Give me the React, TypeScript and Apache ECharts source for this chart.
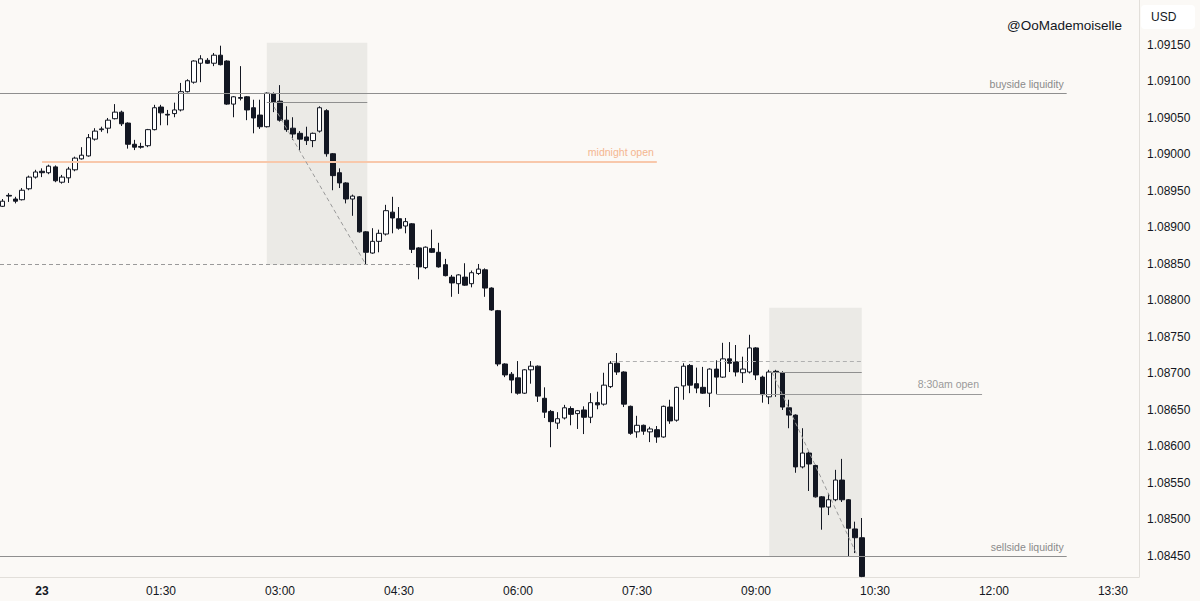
import React, { useEffect, useRef } from "react";
import * as echarts from "echarts";

// 5-minute candles, first one at 23:30 of the previous day (minutes relative to 00:00)
const candleStartMinutes = -30;
const candleStepMinutes = 5;

// [open, close, low, high]
const ohlc: [number, number, number, number][] = [
  [1.08929, 1.08936, 1.08928, 1.08939],
  [1.08944, 1.08943, 1.08935, 1.08947],
  [1.08939, 1.08936, 1.08933, 1.08942],
  [1.08938, 1.08951, 1.08937, 1.08954],
  [1.08953, 1.08969, 1.08951, 1.08971],
  [1.08969, 1.08976, 1.08967, 1.08979],
  [1.08977, 1.08975, 1.08969, 1.08981],
  [1.08975, 1.08984, 1.08973, 1.08986],
  [1.08983, 1.08964, 1.08962, 1.08985],
  [1.08962, 1.08969, 1.0896, 1.08972],
  [1.08968, 1.0898, 1.08961, 1.08983],
  [1.08979, 1.08995, 1.08977, 1.08997],
  [1.08994, 1.08999, 1.08993, 1.0901],
  [1.08998, 1.09023, 1.08997, 1.09028],
  [1.09021, 1.09032, 1.09019, 1.09036],
  [1.09034, 1.09035, 1.09031, 1.09038],
  [1.09036, 1.09047, 1.09029, 1.0905],
  [1.09049, 1.09058, 1.09048, 1.09069],
  [1.09058, 1.09042, 1.09039, 1.0906],
  [1.09043, 1.09014, 1.09008, 1.09044],
  [1.09014, 1.0901, 1.09006, 1.0902],
  [1.09011, 1.0901, 1.09008, 1.09016],
  [1.09012, 1.09034, 1.0901, 1.09035],
  [1.09034, 1.09064, 1.09033, 1.09068],
  [1.09065, 1.09057, 1.0904, 1.09068],
  [1.09055, 1.09054, 1.0904, 1.09061],
  [1.09056, 1.09061, 1.09051, 1.09071],
  [1.09061, 1.09086, 1.09059, 1.09098],
  [1.09086, 1.09101, 1.09085, 1.09103],
  [1.09099, 1.09128, 1.09097, 1.09129],
  [1.09125, 1.09131, 1.09099, 1.09136],
  [1.09129, 1.09125, 1.09124, 1.09132],
  [1.09125, 1.09136, 1.09121, 1.09139],
  [1.09136, 1.09123, 1.09122, 1.09149],
  [1.09128, 1.09069, 1.09068, 1.09129],
  [1.09069, 1.09079, 1.09051, 1.0908],
  [1.09078, 1.09077, 1.09074, 1.09121],
  [1.09079, 1.09061, 1.09047, 1.0908],
  [1.09064, 1.0905, 1.09029, 1.09075],
  [1.09054, 1.09038, 1.09035, 1.09075],
  [1.09038, 1.09084, 1.09037, 1.09085],
  [1.09083, 1.09072, 1.09058, 1.09085],
  [1.09073, 1.09047, 1.09045, 1.09095],
  [1.09047, 1.09034, 1.09031, 1.09066],
  [1.09036, 1.09028, 1.0902, 1.09051],
  [1.09029, 1.09021, 1.09006, 1.09032],
  [1.09024, 1.09019, 1.09013, 1.09038],
  [1.09019, 1.09029, 1.0901, 1.0903],
  [1.09032, 1.09064, 1.0903, 1.09066],
  [1.0906, 1.09001, 1.08997, 1.09062],
  [1.09001, 1.08971, 1.08951, 1.09002],
  [1.08975, 1.08961, 1.08954, 1.08981],
  [1.08961, 1.08939, 1.08933, 1.08962],
  [1.08939, 1.08943, 1.08916, 1.08945],
  [1.08942, 1.08894, 1.08893, 1.08943],
  [1.08894, 1.08866, 1.08849, 1.08895],
  [1.08865, 1.08881, 1.08864, 1.08899],
  [1.08881, 1.08892, 1.08866, 1.08897],
  [1.08891, 1.08923, 1.08889, 1.08931],
  [1.08921, 1.08913, 1.08892, 1.08942],
  [1.08912, 1.08899, 1.08897, 1.08928],
  [1.08902, 1.08908, 1.08892, 1.08913],
  [1.08905, 1.0887, 1.08865, 1.08906],
  [1.08872, 1.08846, 1.08829, 1.08873],
  [1.08845, 1.08873, 1.08843, 1.08874],
  [1.08871, 1.08866, 1.08865, 1.08897],
  [1.08866, 1.08846, 1.08845, 1.08879],
  [1.08849, 1.08834, 1.08833, 1.08857],
  [1.08832, 1.08824, 1.08805, 1.08835],
  [1.08823, 1.08835, 1.08809, 1.08836],
  [1.08832, 1.08821, 1.0882, 1.08851],
  [1.08823, 1.08838, 1.08818, 1.08841],
  [1.08837, 1.08843, 1.08835, 1.0885],
  [1.08842, 1.08817, 1.08805, 1.08844],
  [1.08817, 1.08787, 1.08786, 1.08818],
  [1.08786, 1.08713, 1.0871, 1.08787],
  [1.08713, 1.08698, 1.08695, 1.08714],
  [1.08699, 1.08691, 1.08673, 1.08702],
  [1.08694, 1.08673, 1.08671, 1.08717],
  [1.08673, 1.08705, 1.08672, 1.08706],
  [1.08705, 1.0871, 1.08686, 1.08717],
  [1.0871, 1.08669, 1.08661, 1.08711],
  [1.08666, 1.08647, 1.08639, 1.08681],
  [1.08648, 1.08634, 1.08599, 1.0865],
  [1.08632, 1.08638, 1.08624, 1.08647],
  [1.08639, 1.08653, 1.08637, 1.08657],
  [1.08652, 1.08644, 1.08629, 1.08655],
  [1.08645, 1.08649, 1.08624, 1.0865],
  [1.0865, 1.0864, 1.08617, 1.08655],
  [1.0864, 1.0866, 1.08632, 1.08673],
  [1.0866, 1.08657, 1.08651, 1.08675],
  [1.08658, 1.08684, 1.08656, 1.08701],
  [1.08682, 1.08714, 1.0868, 1.08717],
  [1.08714, 1.08702, 1.08698, 1.08728],
  [1.08702, 1.08658, 1.08654, 1.08703],
  [1.08655, 1.08618, 1.08616, 1.08656],
  [1.0862, 1.08629, 1.08612, 1.08642],
  [1.08629, 1.08621, 1.08616, 1.0863],
  [1.0862, 1.08624, 1.08606, 1.08627],
  [1.08623, 1.08613, 1.08605, 1.08628],
  [1.08613, 1.08655, 1.08612, 1.08656],
  [1.08654, 1.08635, 1.08631, 1.08664],
  [1.08636, 1.08681, 1.08634, 1.08682],
  [1.08683, 1.0871, 1.08664, 1.08714],
  [1.08711, 1.08684, 1.08673, 1.08713],
  [1.08686, 1.0868, 1.08673, 1.08708],
  [1.08681, 1.08673, 1.08672, 1.08709],
  [1.08673, 1.08706, 1.08654, 1.08707],
  [1.08706, 1.08695, 1.08672, 1.08718],
  [1.08695, 1.0872, 1.08694, 1.08742],
  [1.0872, 1.08714, 1.08702, 1.08743],
  [1.08716, 1.08702, 1.08696, 1.08739],
  [1.08701, 1.08706, 1.08687, 1.08723],
  [1.08702, 1.08735, 1.087, 1.08753],
  [1.08735, 1.08698, 1.08691, 1.08736],
  [1.08695, 1.08671, 1.0866, 1.08697],
  [1.08668, 1.08702, 1.08658, 1.08705],
  [1.08703, 1.08702, 1.08668, 1.08705],
  [1.08701, 1.08654, 1.0865, 1.08703],
  [1.08653, 1.08643, 1.08625, 1.08664],
  [1.08643, 1.08572, 1.08564, 1.08644],
  [1.08572, 1.08591, 1.0857, 1.08625],
  [1.08591, 1.08576, 1.08539, 1.08593],
  [1.08574, 1.08531, 1.0853, 1.08575],
  [1.08531, 1.08517, 1.08486, 1.08532],
  [1.08517, 1.08527, 1.08506, 1.08536],
  [1.08527, 1.08554, 1.08525, 1.08568],
  [1.08554, 1.08527, 1.08524, 1.08583],
  [1.08527, 1.08488, 1.08449, 1.08528],
  [1.08487, 1.08475, 1.08454, 1.08497],
  [1.08475, 1.08422, 1.08421, 1.08502],
];

// time axis (minutes from 00:00) and its labels
const timeTickValues = [0, 90, 180, 270, 360, 450, 540, 630, 720, 810];
const timeTickLabels = ["23", "01:30", "03:00", "04:30", "06:00", "07:30", "09:00", "10:30", "12:00", "13:30"];

// price axis labels
const priceTicks = [
  1.0845, 1.085, 1.0855, 1.086, 1.0865, 1.087, 1.0875, 1.088, 1.0885, 1.089, 1.0895, 1.09, 1.0905, 1.091, 1.0915,
];

// visible ranges
const timeRange = [-31.8, 829.7];
const priceRange = [1.084212, 1.092116];

// annotation levels
const buysideLiquidity = 1.09084;
const sellsideLiquidity = 1.08449;
const midnightOpen = 1.0899;
const openAt830 = 1.08672;
const liquidityLineEnd = 775;
const midnightLineSpan = [0, 465];
const openAt830Span = [510, 711];
const swingLowLevel = 1.08849;
const swingLowSpan = [-31.8, 282];
const equalHighsLevel = 1.08717;
const equalHighsSpan = [431, 620];
// shaded boxes: [t0, t1, priceTop, priceBottom]
const box1 = [170, 246, 1.09153, 1.08849];
const box2 = [550, 620, 1.0879, 1.0845];
const box1Line = 1.09072;
const box2Line = 1.08702;
// diagonal dashed legs: [t0, p0, t1, p1]
const leg1 = [175.5, 1.09065, 245, 1.08849];
const leg2 = [552, 1.08702, 617, 1.08449];

const BG = "#fbf9f6";
const INK = "#131722";
const FONT = "'Liberation Sans', Arial, sans-serif";

function seg(x0: number, y0: number, x1: number, y1: number, lineStyle: any, label?: any) {
  return [
    { coord: [x0, y0], lineStyle, label: label || { show: false } },
    { coord: [x1, y1] },
  ];
}

export default function App() {
  const ref = useRef<HTMLDivElement>(null);

  useEffect(() => {
    document.body.style.margin = "0";
    const chart = echarts.init(ref.current!, null, { renderer: "svg" });

    const solidGray = { color: "#8f8f8f", width: 1, type: "solid" };
    const dashGray = { color: "#9a9a9a", width: 1, type: [4, 3] };
    const lineLabel = (text: string, color: string) => ({
      show: true,
      position: "insideEndTop",
      formatter: text,
      color,
      fontSize: 10.5,
      fontFamily: FONT,
      distance: [3, 4],
    });

    const option: any = {
      animation: false,
      backgroundColor: BG,
      grid: { left: 0, right: 61, top: 0, bottom: 24, containLabel: false },
      xAxis: {
        type: "value",
        min: timeRange[0],
        max: timeRange[1],
        axisLine: { show: true, onZero: false, lineStyle: { color: "#e2dfda" } },
        axisTick: { show: false },
        splitLine: { show: false },
        axisLabel: {
          customValues: timeTickValues,
          formatter: (v: number) => {
            const idx = timeTickValues.indexOf(Math.round(v));
            if (idx < 0) return "";
            return idx === 0 ? "{b|" + timeTickLabels[idx] + "}" : timeTickLabels[idx];
          },
          color: INK,
          fontSize: 12,
          fontFamily: FONT,
          margin: 8,
          rich: { b: { fontWeight: "bold", fontSize: 12, color: INK, fontFamily: FONT } },
        },
      },
      yAxis: {
        type: "value",
        position: "right",
        min: priceRange[0],
        max: priceRange[1],
        axisLine: { show: true, onZero: false, lineStyle: { color: "#e2dfda" } },
        axisTick: { show: false },
        splitLine: { show: false },
        axisLabel: {
          customValues: priceTicks,
          formatter: (v: number) => v.toFixed(5),
          color: INK,
          fontSize: 12,
          fontFamily: FONT,
          margin: 8,
        },
      },
      series: [
        {
          type: "candlestick",
          data: ohlc.map((c, k) => [candleStartMinutes + k * candleStepMinutes, c[0], c[1], c[2], c[3]]),
          encode: { x: 0, y: [1, 2, 3, 4] },
          barWidth: 5,
          itemStyle: {
            color: "#ffffff",
            color0: INK,
            borderColor: INK,
            borderColor0: INK,
            borderWidth: 1,
          },
          markArea: {
            silent: true,
            itemStyle: { color: "rgba(175,175,170,0.2)" },
            data: [
              [{ coord: [box1[0], box1[2]] }, { coord: [box1[1], box1[3]] }],
              [{ coord: [box2[0], box2[2]] }, { coord: [box2[1], box2[3]] }],
            ],
          },
          markLine: {
            silent: true,
            symbol: ["none", "none"],
            animation: false,
            data: [
              seg(timeRange[0], buysideLiquidity, liquidityLineEnd, buysideLiquidity, solidGray, lineLabel("buyside liquidity", "#8a8a8a")),
              seg(timeRange[0], sellsideLiquidity, liquidityLineEnd, sellsideLiquidity, solidGray, lineLabel("sellside liquidity", "#8a8a8a")),
              seg(midnightLineSpan[0], midnightOpen, midnightLineSpan[1], midnightOpen, { color: "#f8c8ab", width: 2, type: "solid" }, lineLabel("midnight open", "#f4b690")),
              seg(openAt830Span[0], openAt830, openAt830Span[1], openAt830, { color: "#9a9a9a", width: 1, type: "solid" }, lineLabel("8:30am open", "#9a9a9a")),
              seg(swingLowSpan[0], swingLowLevel, swingLowSpan[1], swingLowLevel, dashGray),
              seg(equalHighsSpan[0], equalHighsLevel, equalHighsSpan[1], equalHighsLevel, { color: "#b0b0b0", width: 1, type: [4, 3] }),
              seg(box1[0], box1Line, box1[1], box1Line, solidGray),
              seg(box2[0], box2Line, box2[1], box2Line, solidGray),
              seg(leg1[0], leg1[1], leg1[2], leg1[3], dashGray),
              seg(leg2[0], leg2[1], leg2[2], leg2[3], dashGray),
            ],
          },
        },
      ],
      graphic: [
        {
          type: "rect",
          shape: { x: 1141, y: 5, width: 54, height: 24, r: 4 },
          style: { fill: "#ffffff" },
          z: 10,
        },
        {
          type: "text",
          x: 1151,
          y: 17,
          style: { text: "USD", fill: INK, fontSize: 12, fontFamily: FONT, verticalAlign: "middle" },
          z: 11,
        },
        {
          type: "text",
          x: 1122,
          y: 25,
          style: {
            text: "@OoMademoiselle",
            fill: INK,
            fontSize: 13.5,
            fontFamily: FONT,
            align: "right",
            verticalAlign: "middle",
          },
          z: 11,
        },
      ],
    };

    chart.setOption(option);
    return () => chart.dispose();
  }, []);

  return <div ref={ref} style={{ position: "fixed", left: 0, top: 0, width: 1200, height: 601 }} />;
}
